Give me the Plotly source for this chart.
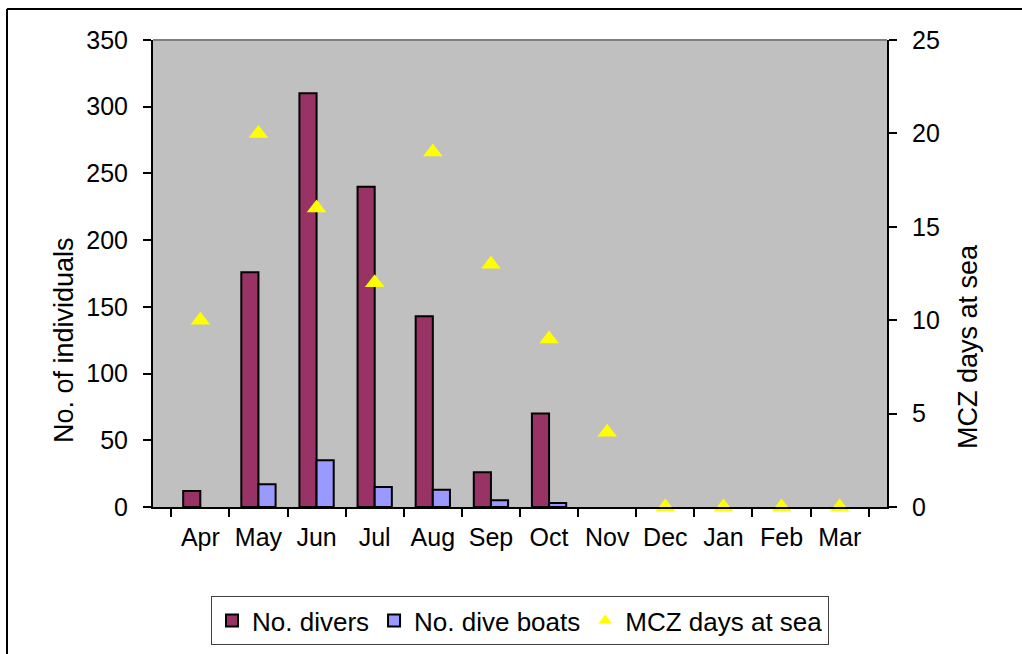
import plotly.graph_objects as go

months = ["Apr", "May", "Jun", "Jul", "Aug", "Sep", "Oct", "Nov", "Dec", "Jan", "Feb", "Mar"]
divers = [12, 176, 310, 240, 143, 26, 70, None, None, None, None, None]
boats = [None, 17, 35, 15, 13, 5, 3, None, None, None, None, None]
days_at_sea = [10, 20, 16, 12, 19, 13, 9, 4, 0, 0, 0, 0]

FONT = "Liberation Sans, Arial, sans-serif"
fig = go.Figure()
fig.add_trace(go.Bar(x=months, y=divers, name="No. divers",
                     marker=dict(color="#993366", line=dict(color="black", width=2))))
fig.add_trace(go.Bar(x=months, y=boats, name="No. dive boats",
                     marker=dict(color="#9999FF", line=dict(color="black", width=2))))
fig.add_trace(go.Scatter(x=months, y=days_at_sea, name="MCZ days at sea", mode="markers",
                         yaxis="y2", cliponaxis=False,
                         marker=dict(symbol="triangle-up", color="#FFFF00", size=17,
                                     line=dict(width=0))))

L, R, T, B = 153, 887, 40, 507
W, H = 1022, 654
pw, ph = R - L, B - T

def px(x):
    return (x - L) / pw

def py(y):
    return (B - y) / ph

TICKF = dict(size=25)
fig.update_layout(
    width=W, height=H,
    margin=dict(l=L, r=W - R, t=T, b=H - B, pad=0),
    paper_bgcolor="white", plot_bgcolor="#C0C0C0",
    font=dict(family=FONT, size=25, color="black"),
    barmode="group", bargap=0.41, bargroupgap=0,
    showlegend=True,
    legend=dict(orientation="h", x=0.5, xanchor="center",
                yref="container", y=(H - 596) / H, yanchor="top",
                bgcolor="white", bordercolor="#404040", borderwidth=1,
                font=dict(size=26), itemsizing="constant", traceorder="normal",
                itemwidth=30),
    xaxis=dict(showline=True, linecolor="black", linewidth=2, ticks="outside",
               tickson="boundaries", ticklen=8, tickcolor="black", tickwidth=1.5,
               showgrid=False, ticklabelstandoff=7, fixedrange=True, tickfont=TICKF),
    yaxis=dict(range=[0, 350], dtick=50, showline=True, linecolor="black", linewidth=2,
               ticks="outside", ticklen=8, tickcolor="black", tickwidth=1.5,
               showgrid=False, zeroline=False, ticklabelstandoff=10, tickfont=TICKF),
    yaxis2=dict(range=[0, 25], dtick=5, overlaying="y", side="right", showline=True,
                linecolor="black", linewidth=2, ticks="outside", ticklen=8,
                tickcolor="black", tickwidth=1.5, showgrid=False, zeroline=False,
                ticklabelstandoff=10, tickfont=TICKF),
    annotations=[
        dict(text="No. of individuals", xref="paper", yref="paper", x=px(64), y=py(340),
             xanchor="center", yanchor="middle",
             textangle=-90, showarrow=False, font=dict(size=27)),
        dict(text="MCZ days at sea", xref="paper", yref="paper", x=px(968), y=py(346),
             xanchor="center", yanchor="middle",
             textangle=-90, showarrow=False, font=dict(size=27)),
    ],
    shapes=[
        dict(type="line", xref="paper", yref="paper", x0=0, x1=1, y0=1, y1=1,
             line=dict(color="#808080", width=2)),
        dict(type="line", xref="paper", yref="paper", x0=px(7), x1=px(W), y0=py(9), y1=py(9),
             line=dict(color="black", width=2)),
        dict(type="line", xref="paper", yref="paper", x0=px(7), x1=px(7), y0=py(9), y1=py(H),
             line=dict(color="black", width=2)),
    ],
)

fig.write_html("out.html", config={"displayModeBar": False},
               post_script="document.body.style.margin='0';document.body.style.overflow='hidden';")
